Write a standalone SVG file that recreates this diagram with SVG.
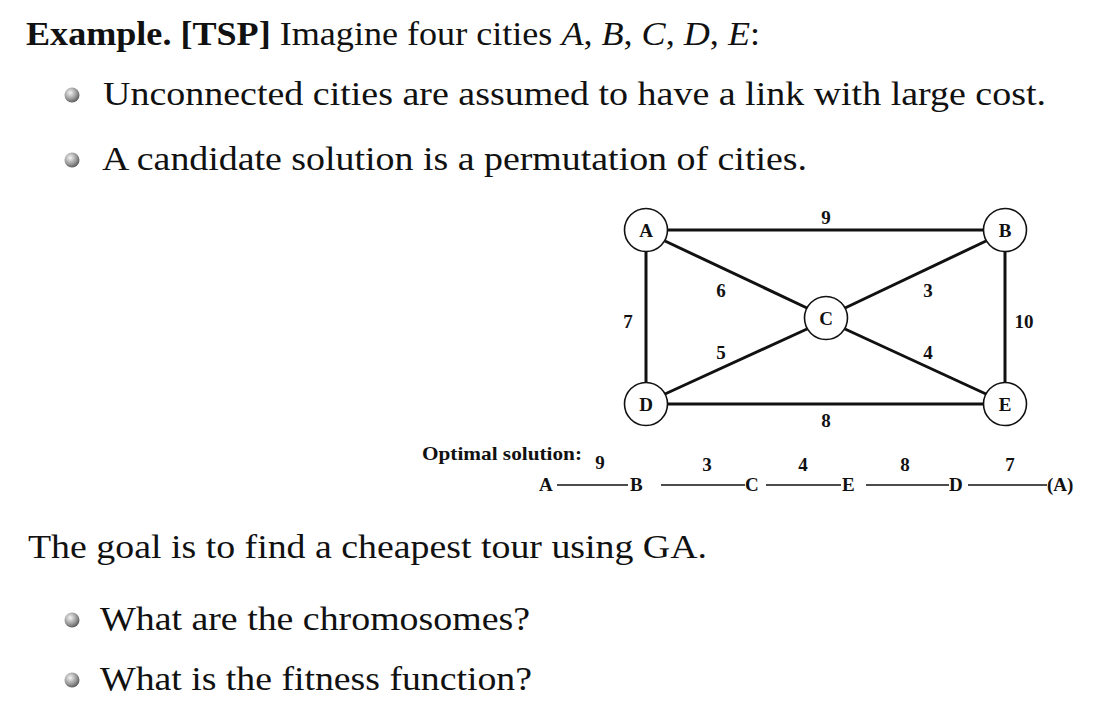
<svg xmlns="http://www.w3.org/2000/svg" width="1096" height="717" viewBox="0 0 1096 717">
<defs>
<radialGradient id="ball" cx="0.38" cy="0.35" r="0.7">
<stop offset="0" stop-color="#f4f4f4"/>
<stop offset="0.6" stop-color="#9a9a9a"/>
<stop offset="1" stop-color="#555"/>
</radialGradient>
</defs>
<style>
.t{font-family:"Liberation Serif","Times New Roman",serif;font-size:34.5px;fill:#111}
.b{font-weight:bold}
.i{font-style:italic}
.edge{stroke:#111;stroke-width:3;fill:none;stroke-linecap:butt}
.node circle{fill:#fff;stroke:#111;stroke-width:1.6}
.nl{font-family:"Liberation Serif","Times New Roman",serif;font-weight:bold;font-size:19px;fill:#111;text-anchor:middle}
.el{font-family:"Liberation Serif","Times New Roman",serif;font-weight:bold;font-size:19px;fill:#111;text-anchor:middle}
.sl{font-family:"Liberation Serif","Times New Roman",serif;font-weight:bold;font-size:19px;fill:#111}
.dash{stroke:#111;stroke-width:1.6}
</style>
<rect width="1096" height="717" fill="#fff"/>

<g id="text">
<text class="t" x="26" y="45" textLength="734" lengthAdjust="spacingAndGlyphs"><tspan class="b">Example. [TSP]</tspan> Imagine four cities <tspan class="i">A</tspan>, <tspan class="i">B</tspan>, <tspan class="i">C</tspan>, <tspan class="i">D</tspan>, <tspan class="i">E</tspan>:</text>
<circle cx="72" cy="95" r="7.5" fill="url(#ball)"/>
<text class="t" x="103" y="105" textLength="943" lengthAdjust="spacingAndGlyphs">Unconnected cities are assumed to have a link with large cost.</text>
<circle cx="72" cy="160" r="7.5" fill="url(#ball)"/>
<text class="t" x="102" y="170" textLength="705" lengthAdjust="spacingAndGlyphs">A candidate solution is a permutation of cities.</text>
<text class="t" x="28" y="558" textLength="679" lengthAdjust="spacingAndGlyphs">The goal is to find a cheapest tour using GA.</text>
<circle cx="72" cy="620" r="7.5" fill="url(#ball)"/>
<text class="t" x="100" y="630" textLength="430" lengthAdjust="spacingAndGlyphs">What are the chromosomes?</text>
<circle cx="72" cy="680" r="7.5" fill="url(#ball)"/>
<text class="t" x="100" y="690" textLength="432" lengthAdjust="spacingAndGlyphs">What is the fitness function?</text>
</g>

<g id="connectors">
<line class="edge" x1="668" y1="230" x2="983" y2="230"/>
<line class="edge" x1="646" y1="252" x2="646" y2="382"/>
<line class="edge" x1="1005" y1="252" x2="1005" y2="382"/>
<line class="edge" x1="668" y1="404" x2="983" y2="404"/>
<line class="edge" x1="665" y1="241" x2="807" y2="308"/>
<line class="edge" x1="845" y1="308" x2="986" y2="241"/>
<line class="edge" x1="665" y1="394" x2="807" y2="329"/>
<line class="edge" x1="845" y1="329" x2="986" y2="394"/>
</g>

<g id="edge-labels">
<text class="el" x="826" y="224">9</text>
<text class="el" x="721" y="297">6</text>
<text class="el" x="928" y="297">3</text>
<text class="el" x="628" y="328">7</text>
<text class="el" x="1024" y="328">10</text>
<text class="el" x="721" y="359">5</text>
<text class="el" x="928" y="359">4</text>
<text class="el" x="826" y="427">8</text>
</g>

<g id="node-A" class="node"><circle cx="646" cy="230" r="21.5"/><text class="nl" x="646" y="237">A</text></g>
<g id="node-B" class="node"><circle cx="1005" cy="230" r="21.5"/><text class="nl" x="1005" y="237">B</text></g>
<g id="node-C" class="node"><circle cx="826" cy="318" r="21.5"/><text class="nl" x="826" y="325">C</text></g>
<g id="node-D" class="node"><circle cx="646" cy="404" r="21.5"/><text class="nl" x="646" y="411">D</text></g>
<g id="node-E" class="node"><circle cx="1005" cy="404" r="21.5"/><text class="nl" x="1005" y="411">E</text></g>

<g id="optimal-solution">
<text class="sl" x="422" y="460" textLength="160" lengthAdjust="spacingAndGlyphs">Optimal solution:</text>
<text class="el" x="600" y="469">9</text>
<text class="el" x="707" y="471">3</text>
<text class="el" x="803" y="471">4</text>
<text class="el" x="905" y="471">8</text>
<text class="el" x="1010" y="471">7</text>
<text class="sl" x="539" y="491">A</text>
<line class="dash" x1="557" y1="485" x2="628" y2="485"/>
<text class="sl" x="630" y="491">B</text>
<line class="dash" x1="661" y1="485" x2="745" y2="485"/>
<text class="sl" x="745" y="491">C</text>
<line class="dash" x1="766" y1="485" x2="841" y2="485"/>
<text class="sl" x="842" y="491">E</text>
<line class="dash" x1="866" y1="485" x2="949" y2="485"/>
<text class="sl" x="949" y="491">D</text>
<line class="dash" x1="968" y1="485" x2="1047" y2="485"/>
<text class="sl" x="1047" y="491">(A)</text>
</g>
</svg>
